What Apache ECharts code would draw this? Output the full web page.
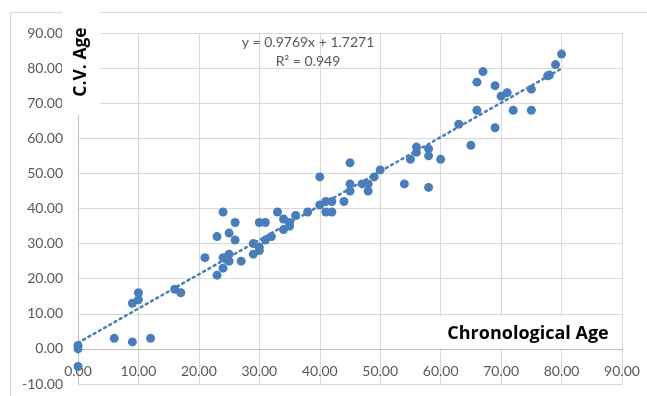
<!DOCTYPE html>
<html>
<head>
<meta charset="utf-8">
<script src="https://cdn.jsdelivr.net/npm/echarts@6/dist/echarts.min.js"></script>
<style>
  html, body { margin: 0; padding: 0; background: #fff; }
  #main { width: 647px; height: 396px; }
</style>
</head>
<body>
<div id="main"></div>
<script>
// chronological age (x) vs C.V. age (y)
var chronoAge = [0, 0, 0, 6, 9, 12, 9, 10, 10, 16, 17,
    21, 23, 23, 24, 24, 24, 25, 25, 25, 24.5,
    26, 26, 27, 29, 29, 30, 31, 30, 30, 31, 32,
    33, 34, 34, 35, 35, 36, 38,
    40, 41, 41, 42, 42, 44,
    40, 45, 45, 45, 47, 48, 48, 49, 50,
    54, 55, 56, 56, 58, 58, 58, 60,
    63, 65, 66, 67, 66, 69, 69, 70, 71, 72, 75, 75, 77.7, 78, 79, 80];
var cvAge = [0, 1, -5, 3, 2, 3, 13, 14, 16, 17, 16,
    26, 32, 21, 39, 26, 23, 33, 27, 25, 25.5,
    36, 31, 25, 30, 27, 36, 36, 28, 29, 31, 32,
    39, 37, 34, 36, 35, 38, 39,
    41, 42, 39, 42, 39, 42,
    49, 53, 45, 47, 47, 47, 45, 49, 51,
    47, 54, 57.5, 56, 57, 55, 46, 54,
    64, 58, 76, 79, 68, 75, 63, 72, 73, 68, 74, 68, 77.8, 78, 81, 84];
// linear trendline reported on the chart
var slope = 0.9769;
var intercept = 1.7271;
var rSquared = 0.949;
var trendX = [0, 80];

window.onload = function () {
    var myChart = echarts.init(document.getElementById('main'));
    var points = [];
    for (var i = 0; i < chronoAge.length; i++) {
        points.push([chronoAge[i], cvAge[i]]);
    }
    var trend = [];
    for (var j = 0; j < trendX.length; j++) {
        trend.push([trendX[j], slope * trendX[j] + intercept]);
    }
    var blue = '#4a7ebb';
    var labelStyle = {
        color: '#595959',
        fontFamily: 'Lato',
        fontSize: 14,
        formatter: function (v) { return v.toFixed(2); }
    };
    var option = {
        animation: false,
        grid: { left: 78, top: 33, width: 544, height: 351, outerBoundsMode: 'none' },
        xAxis: {
            type: 'value', min: 0, max: 90, interval: 10,
            // x axis crosses at y = 0 (one tenth of the plot height above the bottom)
            offset: -35.1,
            axisLine: { onZero: false, lineStyle: { color: '#bfbfbf' } },
            axisTick: { show: false },
            axisLabel: Object.assign({ margin: 16 }, labelStyle),
            splitLine: { lineStyle: { color: '#d9d9d9' } }
        },
        yAxis: {
            type: 'value', min: -10, max: 90, interval: 10,
            axisLine: { show: true, onZero: false, lineStyle: { color: '#bfbfbf' } },
            axisTick: { show: false },
            axisLabel: Object.assign({ margin: 15 }, labelStyle),
            splitLine: { lineStyle: { color: '#d9d9d9' } }
        },
        series: [
            {
                type: 'line',
                data: trend,
                symbol: 'none',
                lineStyle: { color: blue, width: 2.5, type: [2, 4], cap: 'round' },
                z: 3
            },
            {
                type: 'scatter',
                data: points,
                symbolSize: 9,
                itemStyle: { color: blue, opacity: 1 },
                z: 4
            }
        ],
        graphic: [
            {
                type: 'rect', z: -10, silent: true,
                shape: { x: 10.5, y: 12.5, width: 700, height: 450 },
                style: { fill: 'none', stroke: '#d9d9d9', lineWidth: 1 }
            },
            {
                type: 'rect', z: 20,
                shape: { x: 62, y: 6, width: 38, height: 109 },
                style: { fill: '#fff' }
            },
            {
                type: 'text', z: 21,
                x: 81, y: 62, rotation: Math.PI / 2,
                style: {
                    text: 'C.V. Age', fill: '#000', font: 'bold 17.5px "Open Sans"',
                    align: 'center', verticalAlign: 'middle'
                }
            },
            {
                type: 'rect', z: 20,
                shape: { x: 432, y: 316, width: 189, height: 32 },
                style: { fill: '#fff' }
            },
            {
                type: 'text', z: 21,
                x: 528, y: 334,
                style: {
                    text: 'Chronological Age', fill: '#000', font: 'bold 18px "Open Sans"',
                    align: 'center', verticalAlign: 'middle'
                }
            },
            {
                type: 'text', z: 21,
                x: 308, y: 42,
                style: {
                    text: 'y = ' + slope + 'x + ' + intercept, fill: '#595959',
                    font: '14px Lato', align: 'center', verticalAlign: 'middle'
                }
            },
            {
                type: 'text', z: 21,
                x: 308, y: 61,
                style: {
                    text: 'R² = ' + rSquared, fill: '#595959',
                    font: '14px Lato', align: 'center', verticalAlign: 'middle'
                }
            }
        ]
    };
    myChart.setOption(option);
};
</script>
</body>
</html>
